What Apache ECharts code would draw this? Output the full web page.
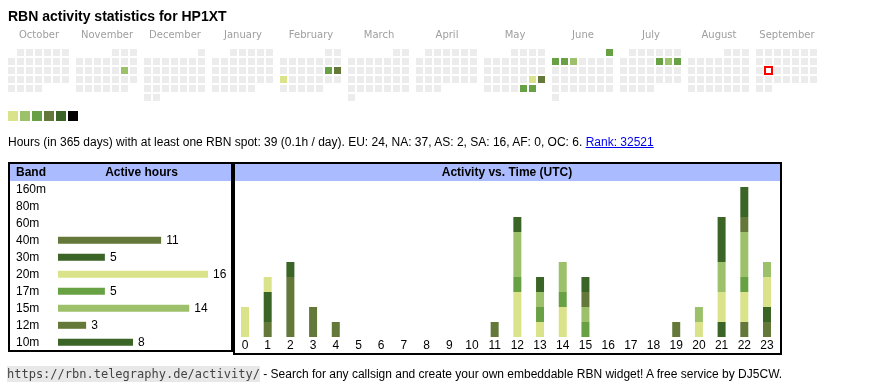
<!DOCTYPE html>
<html><head><meta charset="utf-8">
<script src="https://cdn.jsdelivr.net/npm/echarts@6/dist/echarts.min.js"></script>
<style>
html,body{margin:0;padding:0;background:#fff;}
#chart{position:absolute;left:0;top:0;width:870px;height:390px;}
.t{position:absolute;white-space:nowrap;font-family:"Liberation Sans",Arial,sans-serif;color:#000;}
#title{left:8px;top:8px;font-size:14px;line-height:16px;font-weight:bold;}
#info{left:8px;top:136px;font-size:12px;line-height:13px;}
#info a{color:#0000ee;text-decoration:underline;}
#foot{left:7px;top:367px;font-size:12px;line-height:14px;}
#foot code{font-family:"DejaVu Sans Mono",monospace;font-size:12px;background:#e8e8e8;color:#444;padding:1px 0;}
</style></head>
<body>
<div id="chart"></div>
<div class="t" id="title">RBN activity statistics for HP1XT</div>
<div class="t" id="info">Hours (in 365 days) with at least one RBN spot: 39 (0.1h / day). EU: 24, NA: 37, AS: 2, SA: 16, AF: 0, OC: 6. <a href="#">Rank: 32521</a></div>
<div class="t" id="foot"><code>https://rbn.telegraphy.de/activity/</code> - Search for any callsign and create your own embeddable RBN widget! A free service by DJ5CW.</div>
<script>
// ---- data ----
const months = ['2024-10','2024-11','2024-12','2025-01','2025-02','2025-03','2025-04','2025-05','2025-06','2025-07','2025-08','2025-09'];
const monthNames = ['October','November','December','January','February','March','April','May','June','July','August','September'];
const activeDates = ['2024-11-16','2025-02-15','2025-02-16','2025-02-17','2025-05-24','2025-05-25','2025-05-30','2025-05-31','2025-06-01','2025-06-02','2025-06-03','2025-06-04','2025-07-11','2025-07-12','2025-07-13'];
const activeLevels = [2,3,4,1,1,4,3,3,3,3,3,2,3,2,3];
const today = '2025-09-16';
const levels = [1,2,3,4,5,6];
const bands = ['160m','80m','60m','40m','30m','20m','17m','15m','12m','10m'];
const bandHours = [0,0,0,11,5,16,5,14,3,8];
const hours = ['0','1','2','3','4','5','6','7','8','9','10','11','12','13','14','15','16','17','18','19','20','21','22','23'];
const h160m = [0,0,0,0,0,0,0,0,0,0,0,0,0,0,0,0,0,0,0,0,0,0,0,0];
const h80m  = [0,0,0,0,0,0,0,0,0,0,0,0,0,0,0,0,0,0,0,0,0,0,0,0];
const h60m  = [0,0,0,0,0,0,0,0,0,0,0,0,0,0,0,0,0,0,0,0,0,0,0,0];
const h40m  = [0,1,4,2,1,0,0,0,0,0,0,1,0,0,0,0,0,0,0,0,0,0,1,1];
const h30m  = [0,2,1,0,0,0,0,0,0,0,0,0,0,0,0,0,0,0,0,0,0,1,0,1];
const h20m  = [2,1,0,0,0,0,0,0,0,0,0,0,3,1,2,0,0,0,0,0,1,2,2,2];
const h17m  = [0,0,0,0,0,0,0,0,0,0,0,0,1,1,1,1,0,0,0,0,0,0,1,0];
const h15m  = [0,0,0,0,0,0,0,0,0,0,0,0,3,1,2,1,0,0,0,0,1,2,3,1];
const h12m  = [0,0,0,0,0,0,0,0,0,0,0,0,0,0,0,1,0,0,0,1,0,0,1,0];
const h10m  = [0,0,0,0,0,0,0,0,0,0,0,0,1,1,0,1,0,0,0,0,0,3,2,0];

// ---- styles ----
const PAL = ['#dae28a','#9dc16b','#68a044','#64783a','#3b6526','#000000'];
const bandColor = {'160m':PAL[0],'80m':PAL[1],'60m':PAL[2],'40m':PAL[3],'30m':PAL[4],'20m':PAL[0],'17m':PAL[2],'15m':PAL[1],'12m':PAL[3],'10m':PAL[4]};
const hourly = {'160m':h160m,'80m':h80m,'60m':h60m,'40m':h40m,'30m':h30m,'20m':h20m,'17m':h17m,'15m':h15m,'12m':h12m,'10m':h10m};
const FONT = '"Liberation Sans", Arial, sans-serif';

const chart = echarts.init(document.getElementById('chart'), null, {renderer:'canvas'});

const calendars = months.map((m,i)=>({
  orient:'vertical', range:m, left:7+i*68, top:48, cellSize:[9,9],
  splitLine:{show:false},
  itemStyle:{color:'#ececec', borderColor:'#fff', borderWidth:2},
  dayLabel:{show:false, firstDay:1}, monthLabel:{show:false}, yearLabel:{show:false}
}));

const series = [];
const calSeriesIdx = [];
months.forEach((m,i)=>{
  const d = activeDates.map((x,j)=>[x,activeLevels[j]]).filter(p=>p[0].startsWith(m));
  if (d.length) {
    calSeriesIdx.push(series.length);
    series.push({type:'scatter', coordinateSystem:'calendar', calendarIndex:i, symbol:'rect', symbolSize:7,
      itemStyle:{opacity:1}, data:d, silent:true});
  }
});
series.push({type:'scatter', name:'today', coordinateSystem:'calendar', calendarIndex:months.indexOf(today.slice(0,7)),
  symbol:'emptyRect', symbolSize:7, silent:true, z:5, data:[[today,0]],
  itemStyle:{color:'#ff0000', borderColor:'#ff0000', borderWidth:1, opacity:1}});

series.push({type:'bar', xAxisIndex:0, yAxisIndex:0, barWidth:7,
  data: bandHours.map((v,i)=>({value:v, itemStyle:{color:bandColor[bands[i]]}})),
  label:{show:true, position:'right', distance:5, fontSize:12, fontFamily:FONT, color:'#000',
    formatter:p=>p.value?String(p.value):''},
  silent:true});

bands.forEach(b=>{
  series.push({type:'bar', name:b, xAxisIndex:1, yAxisIndex:1, stack:'t', barWidth:8,
    data:hourly[b], itemStyle:{color:bandColor[b]}, silent:true});
});

const graphic = [
  {type:'rect', shape:{x:10,y:164,width:221,height:17}, style:{fill:'#aabbff'}},
  {type:'rect', shape:{x:235,y:164,width:545,height:17}, style:{fill:'#aabbff'}},
  {type:'rect', shape:{x:9,y:163,width:223,height:188}, style:{fill:'none', stroke:'#000', lineWidth:2}},
  {type:'rect', shape:{x:234,y:163,width:547,height:191}, style:{fill:'none', stroke:'#000', lineWidth:2}},
  {type:'text', style:{text:'Band', x:16, y:173, font:'bold 12px '+FONT, fill:'#000', textAlign:'left', textVerticalAlign:'middle', align:'left', verticalAlign:'middle'}},
  {type:'text', style:{text:'Active hours', x:141.5, y:173, font:'bold 12px '+FONT, fill:'#000', textAlign:'center', textVerticalAlign:'middle', align:'center', verticalAlign:'middle'}},
  {type:'text', style:{text:'Activity vs. Time (UTC)', x:507, y:173, font:'bold 12px '+FONT, fill:'#000', textAlign:'center', textVerticalAlign:'middle', align:'center', verticalAlign:'middle'}}
];
monthNames.forEach((n,i)=>{
  graphic.push({type:'text', style:{text:n, x:39+i*68, y:35, font:'10px "DejaVu Sans", sans-serif', fill:'#9e9e9e', textAlign:'center', textVerticalAlign:'middle', align:'center', verticalAlign:'middle'}});
});

chart.setOption({
  animation:false,
  calendar:calendars,
  visualMap:{type:'piecewise', seriesIndex:calSeriesIdx, dimension:1,
    pieces:levels.map((v,i)=>({value:v, color:PAL[i]})),
    orient:'horizontal', left:8, top:111, itemWidth:10, itemHeight:10, itemGap:2,
    showLabel:false, itemSymbol:'rect', selectedMode:false, padding:0, textGap:0},
  grid:[
    {left:58, top:180.8, width:150, height:170},
    {left:233.65, top:187, width:544.7, height:150}
  ],
  xAxis:[
    {type:'value', gridIndex:0, min:0, max:16, show:false},
    {type:'category', gridIndex:1, data:hours, axisLine:{show:false}, axisTick:{show:false},
      axisLabel:{interval:0, margin:3, fontSize:12, fontFamily:FONT, color:'#000'}}
  ],
  yAxis:[
    {type:'category', gridIndex:0, data:bands, inverse:true, axisLine:{show:false}, axisTick:{show:false},
      axisLabel:{align:'left', margin:42, fontSize:12, fontFamily:FONT, color:'#000'}},
    {type:'value', gridIndex:1, min:0, max:10, show:false}
  ],
  graphic:graphic,
  series:series
});
</script>
</body></html>
